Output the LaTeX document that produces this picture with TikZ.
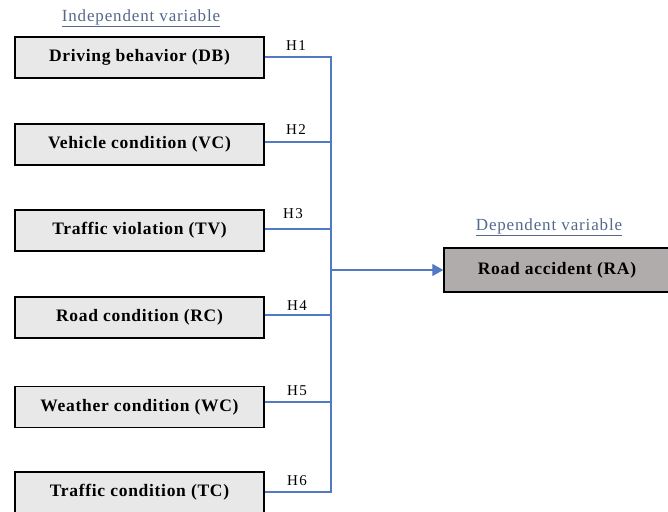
\documentclass[tikz,border=0pt]{standalone}
\usepackage{fontspec}
\setmainfont{Liberation Serif}
\usetikzlibrary{arrows.meta}
\definecolor{conn}{RGB}{82,122,196}
\definecolor{lbl}{RGB}{84,104,140}
\definecolor{boxfill}{RGB}{232,232,232}
\definecolor{rafill}{RGB}{176,172,172}
\begin{document}
\begin{tikzpicture}[x=1pt,y=-1pt,
  ivbox/.style={draw=black,line width=1.4pt,fill=boxfill,minimum width=249pt,minimum height=41pt,inner sep=0pt,font=\bfseries\fontsize{17.5}{19}\selectfont\addfontfeature{LetterSpace=4}},
  dvbox/.style={draw=black,line width=1.4pt,fill=rafill,minimum width=226pt,minimum height=44pt,inner sep=0pt,font=\bfseries\fontsize{17.5}{19}\selectfont\addfontfeature{LetterSpace=4}},
  hlab/.style={font=\fontsize{15}{17}\selectfont\addfontfeature{LetterSpace=8},inner sep=0pt},
  head/.style={font=\fontsize{17}{19}\selectfont\addfontfeature{LetterSpace=5},text=lbl,inner sep=1pt},
  link/.style={draw=conn,line width=1.3pt}]
\useasboundingbox (0,0) rectangle (668,511);
\clip (0,0) rectangle (668,511);
\node[head] (ivh) at (141,18) {\underline{Independent variable}};
\node[ivbox] (db) at (139.5,57.5) {Driving behavior (DB)};
\node[ivbox] (vc) at (139.5,144.5) {Vehicle condition (VC)};
\node[ivbox] (tv) at (139.5,230.5) {Traffic violation (TV)};
\node[ivbox] (rc) at (139.5,317.5) {Road condition (RC)};
\node[ivbox] (wc) at (139.5,407) {Weather condition (WC)};
\node[ivbox] (tc) at (139.5,492.5) {Traffic condition (TC)};
\node[head] (dvh) at (549,227) {\underline{Dependent variable}};
\node[dvbox] (ra) at (557,270) {Road accident (RA)};
\coordinate (top) at (331,57);
\coordinate (bot) at (331,492);
\coordinate (mid) at (331,270);
\draw[link] (db.east |- top) -- (top) -- (bot) -- (tc.east |- bot);
\draw[link] (vc.east |- 0,142) -- (331,142);
\draw[link] (tv.east |- 0,229) -- (331,229);
\draw[link] (rc.east |- 0,315) -- (331,315);
\draw[link] (wc.east |- 0,402) -- (331,402);
\draw[link,-{Triangle[length=11pt,width=12pt]}] (mid) -- (ra.west);
\node[hlab] (h1) at (296,46) {H1};
\node[hlab] (h2) at (296,130) {H2};
\node[hlab] (h3) at (293,214) {H3};
\node[hlab] (h4) at (297,306) {H4};
\node[hlab] (h5) at (297,391) {H5};
\node[hlab] (h6) at (297,481) {H6};
\end{tikzpicture}
\end{document}
